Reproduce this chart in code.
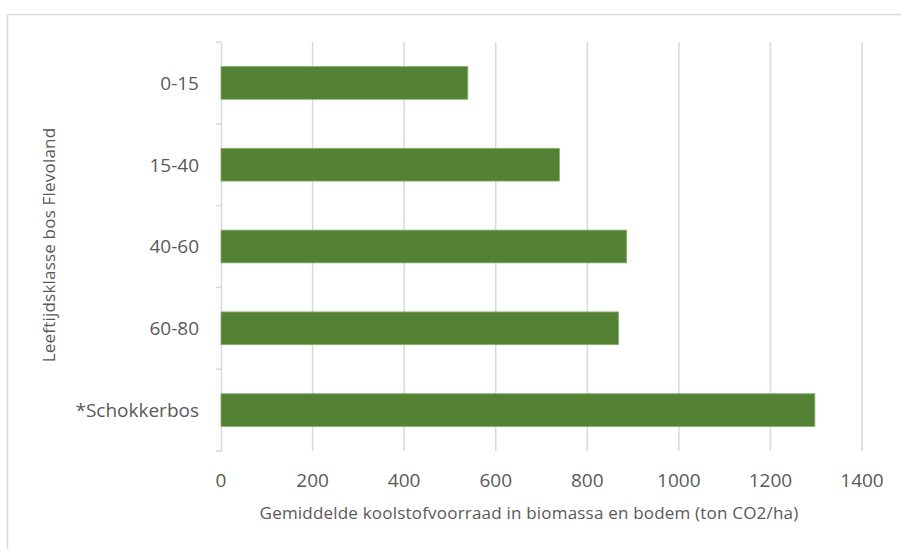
<!DOCTYPE html>
<html>
<head>
<meta charset="utf-8">
<script src="https://cdn.jsdelivr.net/npm/d3@7"></script>
<style>
  html, body { margin: 0; padding: 0; background: #ffffff; }
  svg { display: block; }
</style>
</head>
<body>
<div id="chart"></div>
<script>
// Age classes (top to bottom) and mean carbon stock (ton CO2/ha)
const categories = ["0-15", "15-40", "40-60", "60-80", "*Schokkerbos"];
const values = [539, 739, 886, 868, 1297];
const xTicks = [0, 200, 400, 600, 800, 1000, 1200, 1400];

const xTitle = "Gemiddelde koolstofvoorraad in biomassa en bodem (ton CO2/ha)";
const yTitle = "Leeftijdsklasse bos Flevoland";

const width = 901;
const height = 549;
const margin = { top: 42, right: 39, bottom: 98, left: 221 };
const font = "'Open Sans', sans-serif";
const textColor = "#595959";
const gridColor = "#d9d9d9";

const svg = d3
  .select("#chart")
  .append("svg")
  .attr("width", width)
  .attr("height", height);

// Chart frame
svg
  .append("rect")
  .attr("x", 7.5)
  .attr("y", 14.5)
  .attr("width", width)
  .attr("height", height)
  .attr("fill", "#ffffff")
  .attr("stroke", gridColor)
  .attr("stroke-width", 1.5);

const x = d3
  .scaleLinear()
  .domain([0, 1400])
  .range([margin.left, width - margin.right]);

const y = d3
  .scaleBand()
  .domain(categories)
  .range([margin.top, height - margin.bottom])
  .paddingInner(0.6)
  .paddingOuter(0.3);

// Band edges for category tick marks
const yEdge = d3
  .scaleBand()
  .domain(categories)
  .range([margin.top, height - margin.bottom]);

// Vertical grid lines
svg
  .append("g")
  .attr("class", "grid")
  .selectAll("line")
  .data(xTicks.slice(1))
  .join("line")
  .attr("x1", (d) => x(d))
  .attr("x2", (d) => x(d))
  .attr("y1", margin.top)
  .attr("y2", height - margin.bottom)
  .attr("stroke", gridColor)
  .attr("stroke-width", 1.5);

// Category axis line with tick marks
const yAxis = svg
  .append("g")
  .attr("transform", `translate(${margin.left},0)`)
  .call(
    d3
      .axisLeft(yEdge)
      .tickSize(0)
      .tickFormat("")
  );
yAxis.select(".domain").attr("stroke", gridColor).attr("stroke-width", 1.5);

const edges = categories.map((c) => yEdge(c)).concat([height - margin.bottom]);
yAxis
  .selectAll(".edge-tick")
  .data(edges)
  .join("line")
  .attr("class", "edge-tick")
  .attr("x1", -5)
  .attr("x2", 0)
  .attr("y1", (d) => d)
  .attr("y2", (d) => d)
  .attr("stroke", gridColor)
  .attr("stroke-width", 1.5);

// Bars
svg
  .selectAll(".bar")
  .data(categories)
  .join("rect")
  .attr("class", "bar")
  .attr("x", x(0))
  .attr("y", (d) => y(d))
  .attr("width", (d, i) => x(values[i]) - x(0))
  .attr("height", y.bandwidth())
  .attr("fill", "#548235")
  .attr("stroke", "#86ad6a")
  .attr("stroke-width", 0.8);

// Category labels
svg
  .append("g")
  .selectAll("text")
  .data(categories)
  .join("text")
  .attr("x", 199)
  .attr("y", (d) => y(d) + y.bandwidth() / 2)
  .attr("dy", "0.36em")
  .attr("text-anchor", "end")
  .attr("font-family", font)
  .attr("font-size", "19px")
  .attr("fill", textColor)
  .text((d) => d);

// Value axis labels
svg
  .append("g")
  .selectAll("text")
  .data(xTicks)
  .join("text")
  .attr("x", (d) => x(d))
  .attr("y", 480)
  .attr("dy", "0.36em")
  .attr("text-anchor", "middle")
  .attr("font-family", font)
  .attr("font-size", "19px")
  .attr("fill", textColor)
  .text((d) => d);

// Axis titles
svg
  .append("text")
  .attr("x", 529)
  .attr("y", 513)
  .attr("dy", "0.36em")
  .attr("text-anchor", "middle")
  .attr("font-family", font)
  .attr("font-size", "17px")
  .attr("letter-spacing", "0.2px")
  .attr("fill", textColor)
  .text(xTitle);

svg
  .append("text")
  .attr("transform", "translate(49,245) rotate(-90)")
  .attr("dy", "0.36em")
  .attr("text-anchor", "middle")
  .attr("font-family", font)
  .attr("font-size", "17px")
  .attr("letter-spacing", "0.2px")
  .attr("fill", textColor)
  .text(yTitle);
</script>
</body>
</html>
